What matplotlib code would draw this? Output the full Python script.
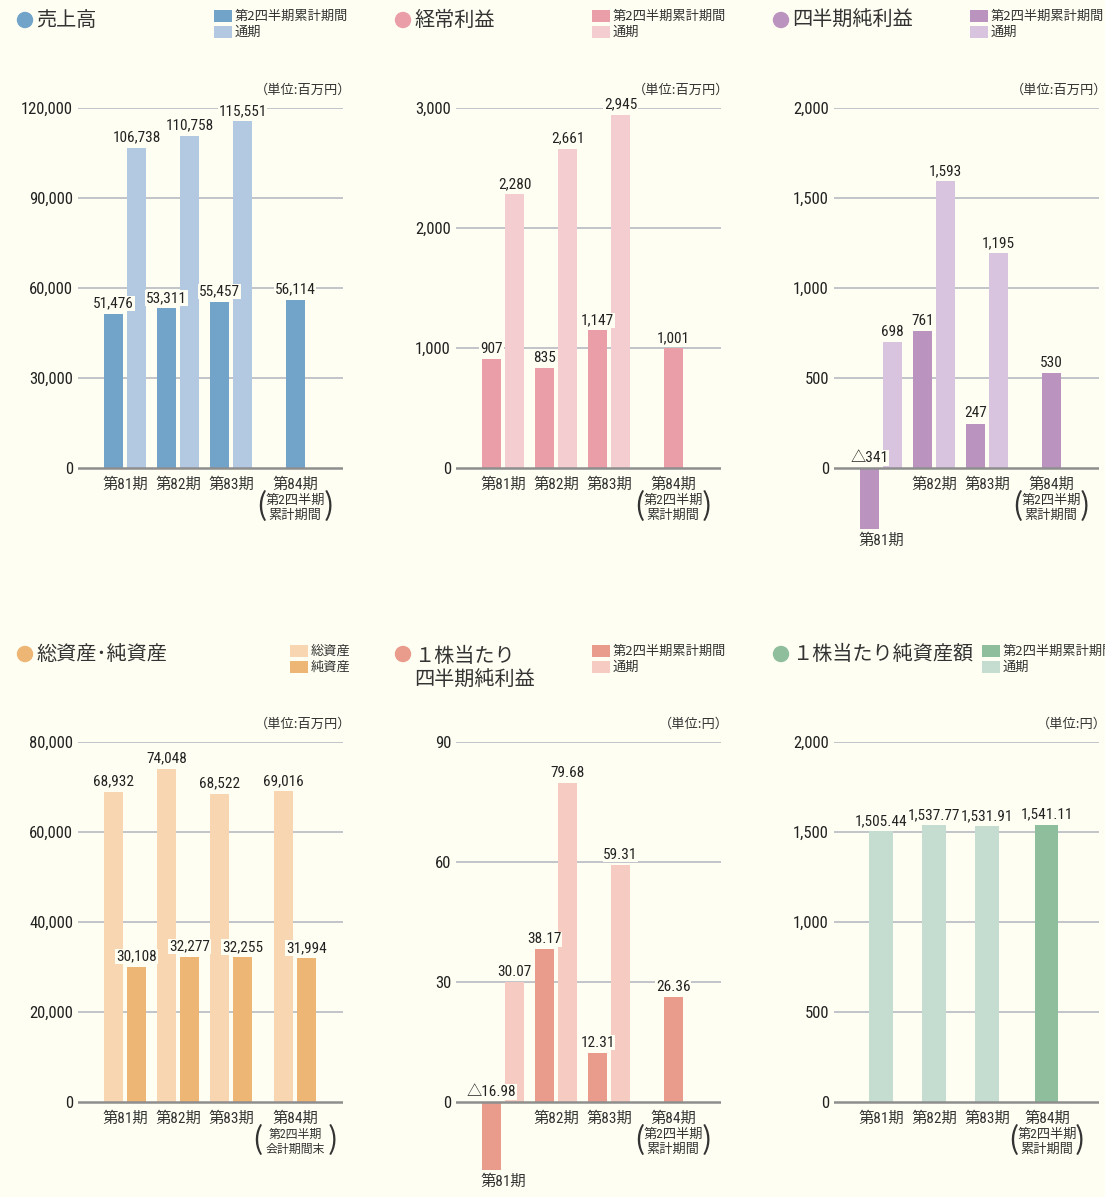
import matplotlib
matplotlib.use('Agg')
import matplotlib.pyplot as plt
from matplotlib.patches import Rectangle, Ellipse
from matplotlib import font_manager as fm

W, H = 1105, 1197
BG = '#FEFEF2'
TXT = '#333333'
GRID = '#B0B6BE'
ZERO = '#8E8E8E'
names = sorted({f.name for f in fm.fontManager.ttflist})
narrow = [n for n in names if any(k in n for k in ('Narrow', 'Condensed', 'Cond'))]
pref = ['Liberation Sans Narrow', 'Roboto Condensed', 'DejaVu Sans Condensed',
        'Open Sans Condensed', 'Noto Sans Condensed']
NUM = next((p for p in pref if p in names), narrow[0] if narrow else 'Liberation Sans')
JP = 'Noto Sans CJK JP'
NUMF = [NUM, JP]
JPF = [JP, 'DejaVu Sans']

# ---------------- data ----------------
periods = ['第81期', '第82期', '第83期', '第84期']
sub84_cum = '第2四半期\n累計期間'
sub84_end = '第2四半期\n会計期間末'

sales_q2 = [51476, 53311, 55457, 56114]
sales_full = [106738, 110758, 115551, None]

ord_q2 = [907, 835, 1147, 1001]
ord_full = [2280, 2661, 2945, None]

net_q2 = [-341, 761, 247, 530]
net_full = [698, 1593, 1195, None]

assets_total = [68932, 74048, 68522, 69016]
assets_net = [30108, 32277, 32255, 31994]

eps_q2 = [-16.98, 38.17, 12.31, 26.36]
eps_full = [30.07, 79.68, 59.31, None]

bps_q2 = [None, None, None, 1541.11]
bps_full = [1505.44, 1537.77, 1531.91, None]

legend_q2 = '第2四半期累計期間'
legend_full = '通期'
legend_total = '総資産'
legend_netassets = '純資産'
unit_million = '（単位:百万円）'
unit_yen = '（単位:円）'

# ---------------- helpers ----------------
fig = plt.figure(figsize=(W / 100, H / 100), dpi=100)
fig.patch.set_facecolor(BG)


def fx(px):
    return px / W


def fy(py):
    return 1 - py / H


def fmt_int(v):
    return ('△' if v < 0 else '') + f'{abs(v):,.0f}'


def fmt_2(v):
    return ('△' if v < 0 else '') + f'{abs(v):,.2f}'


def panel(col, row, title, color_dot, legend, unit, ymax, ystep, series,
          fmt, sub84, x84=3.21, width=0.36, subsize=9.5, paren=0.63):
    left = 78 + 378 * col
    top = 108 if row == 0 else 742
    zero = 468 if row == 0 else 1102
    hpx = (zero - top) * 1.2
    ax = fig.add_axes([fx(left), fy(top + hpx), fx(265), hpx / H])
    ax.set_facecolor('none')
    ax.set_xlim(-47 / 53, (265 - 47) / 53)
    ax.set_ylim(-ymax * 0.2, ymax)
    for s in ax.spines.values():
        s.set_visible(False)
    ticks = [ystep * k for k in range(int(round(ymax / ystep)) + 1)]
    ax.set_yticks(ticks)
    ax.set_yticklabels([f'{t:,}' for t in ticks], fontfamily=NUMF,
                       fontsize=12, color='#222222')
    ax.tick_params(axis='y', length=0, pad=3.6)
    ax.set_xticks([])
    for t in ticks[1:]:
        ax.axhline(t, color=GRID, lw=1.1, zorder=1)
    ax.axhline(0, color=ZERO, lw=1.8, zorder=4)

    xs = [0, 1, 2, x84]
    d = 0.217
    for i, x in enumerate(xs):
        bars = [(vals[i], c) for vals, c in series if vals[i] is not None]
        n = len(bars)
        offs = [0] if n == 1 else [-d, d]
        minv = 0
        for (v, c), o in zip(bars, offs):
            ax.bar(x + o, v, width=width, color=c, zorder=3, linewidth=0)
            minv = min(minv, v)
            ax.annotate(fmt(v), xy=(x + o, max(v, 0)), xytext=(0, 2.2),
                        textcoords='offset points', ha='center', va='bottom',
                        fontfamily=NUMF, fontsize=11, color='#222222',
                        zorder=6,
                        bbox=dict(facecolor=BG, edgecolor='none', pad=0.6))
        off = -3.0 if minv < 0 else -6.5
        ax.annotate(periods[i], xy=(x, minv), xytext=(0, off),
                    textcoords='offset points', ha='center', va='top',
                    fontfamily=NUMF, fontsize=11, color=TXT, zorder=6)
        if i == 3:
            ax.annotate(sub84, xy=(x, 0), xytext=(0, -18.5),
                        textcoords='offset points', ha='center', va='top',
                        fontfamily=NUMF, fontsize=subsize, color=TXT,
                        linespacing=1.22, zorder=6)
            for sgn, ch in ((-1, '('), (1, ')')):
                ax.annotate(ch, xy=(x + sgn * paren, 0), xytext=(0, -27.5),
                            textcoords='offset points', ha='center',
                            va='center', fontfamily=JPF, fontsize=22,
                            color=TXT, zorder=6)

    # title with dot
    ty = 20 if row == 0 else 654
    dcx = 25 + 378 * col
    fig.patches.append(Ellipse((fx(dcx), fy(ty)), 15 / W, 15 / H,
                               transform=fig.transFigure, color=color_dot))
    if '\n' in title:
        fig.text(fx(dcx + 11), fy(ty - 8), title, fontfamily=JPF,
                 fontsize=14.5, color=TXT, va='top', ha='left',
                 linespacing=1.2)
    else:
        fig.text(fx(dcx + 11), fy(ty), title, fontfamily=JPF, fontsize=14.5,
                 color=TXT, va='center', ha='left')
    # legend
    lx = legend[0]
    ly = 10 if row == 0 else 645
    for k, (lab, c) in enumerate(legend[1]):
        yy = ly + 16 * k
        fig.patches.append(Rectangle((fx(lx), fy(yy + 12)), 18 / W, 12 / H,
                                     transform=fig.transFigure, color=c,
                                     linewidth=0))
        fig.text(fx(lx + 21), fy(yy + 6), lab, fontfamily=JPF, fontsize=9.5,
                 color=TXT, va='center', ha='left')
    # unit
    fig.text(fx(left + 273), fy(90 if row == 0 else 724), unit,
             fontfamily=JPF, fontsize=9.5, color=TXT, ha='right',
             va='center')
    return ax


C1d, C1l = '#72A3C9', '#B3C9E1'
C2d, C2l = '#EA9EA8', '#F4CDD1'
C3d, C3l = '#BB93BF', '#D9C4DF'
C4l, C4d = '#F8D6B2', '#EDB675'
C5d, C5l = '#EA9C8C', '#F6CBC1'
C6d, C6l = '#8FBE9D', '#C5DDD0'

panel(0, 0, '売上高', '#72A3C9', (214, [(legend_q2, C1d), (legend_full, C1l)]),
      unit_million, 120000, 30000,
      [(sales_q2, C1d), (sales_full, C1l)], fmt_int, sub84_cum)
panel(1, 0, '経常利益', '#EA9EA8', (592, [(legend_q2, C2d), (legend_full, C2l)]),
      unit_million, 3000, 1000,
      [(ord_q2, C2d), (ord_full, C2l)], fmt_int, sub84_cum)
panel(2, 0, '四半期純利益', '#BB93BF', (970, [(legend_q2, C3d), (legend_full, C3l)]),
      unit_million, 2000, 500,
      [(net_q2, C3d), (net_full, C3l)], fmt_int, sub84_cum)
panel(0, 1, '総資産･純資産', '#EDB675', (290, [(legend_total, C4l), (legend_netassets, C4d)]),
      unit_million, 80000, 20000,
      [(assets_total, C4l), (assets_net, C4d)], fmt_int, sub84_end,
      subsize=8.6, paren=0.72)
panel(1, 1, '１株当たり\n四半期純利益', '#EA9C8C', (592, [(legend_q2, C5d), (legend_full, C5l)]),
      unit_yen, 90, 30,
      [(eps_q2, C5d), (eps_full, C5l)], fmt_2, sub84_cum)
panel(2, 1, '１株当たり純資産額', '#8FBE9D', (982, [(legend_q2, C6d), (legend_full, C6l)]),
      unit_yen, 2000, 500,
      [(bps_full, C6l), (bps_q2, C6d)], fmt_2, sub84_cum, x84=3.13, width=0.434)

fig.savefig('out.png', dpi=100, facecolor=BG)
